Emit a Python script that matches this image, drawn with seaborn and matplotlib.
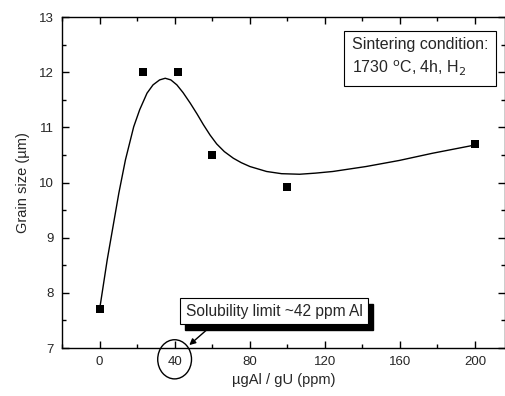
import matplotlib
matplotlib.use("Agg")
import matplotlib.pyplot as plt
from matplotlib.patches import Ellipse, Rectangle
from matplotlib.transforms import IdentityTransform
from matplotlib.ticker import MultipleLocator
import seaborn as sns
import pandas as pd

# measured points
al_ppm = [0, 23, 42, 60, 100, 200]
grain_size = [7.7, 12.0, 12.0, 10.5, 9.92, 10.7]

# smooth fitted curve
curve_x = [0, 4.1, 10.3, 13.8, 18.2, 21.4, 25.3, 28.5, 32.0, 35.0, 38.0, 41.2, 44.5,
           48.3, 52.0, 55.3, 58.9, 62.4, 66.5, 71.3, 75.5, 80.1, 89.0, 97.0, 106.6, 115.0,
           124.3, 142.0, 159.7, 177.3, 200.0]
curve_y = [7.69, 8.60, 9.81, 10.41, 11.01, 11.32, 11.62, 11.77, 11.86, 11.89, 11.86, 11.77, 11.63,
           11.44, 11.24, 11.05, 10.86, 10.70, 10.56, 10.44, 10.36, 10.29, 10.20, 10.16, 10.15, 10.17,
           10.20, 10.29, 10.40, 10.53, 10.68]

x_ticks = [0, 40, 80, 120, 160, 200]
y_ticks = [7, 8, 9, 10, 11, 12, 13]

sns.set_theme(style="ticks")
plt.rcParams['font.family'] = ['Liberation Sans', 'DejaVu Sans']

fig = plt.figure(figsize=(5.06, 3.96), dpi=100)
ax = fig.add_axes([0.1225, 0.1212, 0.8755, 0.8358])

pts = pd.DataFrame({"x": al_ppm, "y": grain_size})
crv = pd.DataFrame({"x": curve_x, "y": curve_y})

sns.lineplot(data=crv, x="x", y="y", ax=ax, color="black", linewidth=1.0, sort=False)
sns.scatterplot(data=pts, x="x", y="y", ax=ax, marker="s", s=36, color="black",
                edgecolor="black", linewidth=0, zorder=3)

ax.set_xlim(-20, 216)
ax.set_ylim(7, 13)
ax.set_xticks(x_ticks)
ax.set_yticks(y_ticks)
ax.xaxis.set_minor_locator(MultipleLocator(20))
ax.yaxis.set_minor_locator(MultipleLocator(0.5))
ax.tick_params(which="both", direction="in", top=True, right=True, color="black",
               labelsize=9.5, width=1.0, pad=6)
ax.tick_params(which="major", length=5)
ax.tick_params(which="minor", length=3)
for s in ax.spines.values():
    s.set_color("black")
    s.set_linewidth(1.0)

ax.set_xlabel("µgAl / gU (ppm)", fontsize=10.5, labelpad=3)
ax.set_ylabel("Grain size (µm)", fontsize=10.5, labelpad=6)

# sintering condition box
ax.text(0.6546, 0.9396, "Sintering condition:\n1730 $^{\\rm o}$C, 4h, H$_{\\rm 2}$",
        transform=ax.transAxes, ha="left", va="top", fontsize=11.5, linespacing=1.45,
        multialignment="left",
        bbox=dict(boxstyle="square,pad=0.5", facecolor="white", edgecolor="black", linewidth=0.8))

# solubility annotation with shadow
sol = ax.text(46, 7.665, "Solubility limit ~42 ppm Al", fontsize=11.2, ha="left", va="center",
              zorder=5,
              bbox=dict(boxstyle="square,pad=0.35", facecolor="white", edgecolor="black",
                        linewidth=0.8))
fig.canvas.draw()
bb = sol.get_bbox_patch().get_window_extent(fig.canvas.get_renderer())
shadow = Rectangle((bb.x0 + 5, bb.y0 - 6), bb.width, bb.height, transform=IdentityTransform(),
                   facecolor="black", edgecolor="black", zorder=4, clip_on=False)
ax.add_artist(shadow)

ax.annotate("", xy=(46.7, 7.02), xytext=(57.8, 7.35),
            arrowprops=dict(arrowstyle="-|>", color="black", lw=1.0, mutation_scale=9),
            zorder=6)

ell = Ellipse((40, 6.795), width=18, height=0.71, fill=False, edgecolor="black",
              linewidth=1.0, clip_on=False, zorder=6)
ax.add_patch(ell)

fig.savefig("out.png", dpi=100)
